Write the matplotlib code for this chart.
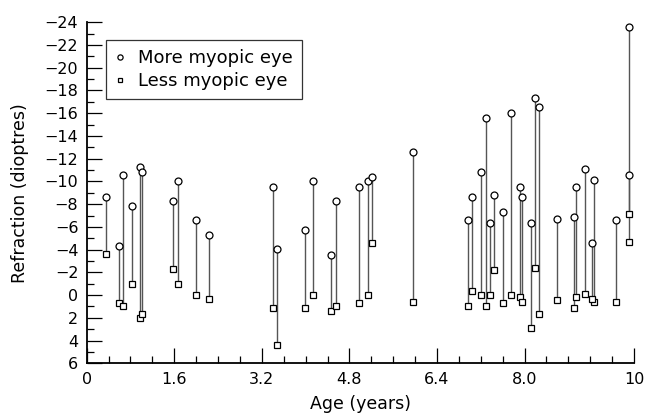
import matplotlib
matplotlib.use("Agg")
import matplotlib.pyplot as plt
from matplotlib.ticker import MultipleLocator, FixedLocator

# Age (years) of each child
age = [0.35, 0.585, 0.66, 0.83, 0.98, 1.01, 1.57, 1.66, 2.00, 2.24,
       3.40, 3.48, 3.99, 4.14, 4.47, 4.56, 4.97, 5.13, 5.22, 5.96,
       6.96, 7.04, 7.20, 7.29, 7.36, 7.45, 7.61, 7.76, 7.92, 7.95,
       8.12, 8.19, 8.27, 8.59, 8.90, 8.94, 9.10, 9.27, 9.23, 9.67,
       9.91, 9.90]
# Refraction of the more myopic eye (dioptres)
more_myopic = [-8.6, -4.3, -10.55, -7.8, -11.25, -10.85, -8.3, -10.05, -6.6, -5.3,
               -9.55, -4.1, -5.7, -10.05, -3.55, -8.3, -9.55, -10.05, -10.35, -12.55,
               -6.6, -8.6, -10.85, -15.6, -6.3, -8.8, -7.35, -16.05, -9.55, -8.6,
               -6.3, -17.35, -16.55, -6.7, -6.85, -9.55, -11.1, -10.1, -4.6, -6.6,
               -23.6, -10.55]
# Refraction of the less myopic eye (dioptres)
less_myopic = [-3.6, 0.7, 0.95, -1.0, 2.0, 1.7, -2.3, -1.0, 0.0, 0.3,
               1.15, 4.4, 1.15, -0.05, 1.4, 0.95, 0.7, -0.05, -4.6, 0.65,
               0.95, -0.35, -0.05, 0.95, -0.05, -2.2, 0.7, -0.05, 0.15, 0.65,
               2.9, -2.4, 1.7, 0.4, 1.1, 0.15, -0.1, 0.65, 0.35, 0.65,
               -7.1, -4.7]

x_tick_vals = [0, 1.6, 3.2, 4.8, 6.4, 8.0, 10]
x_tick_labels = ["0", "1.6", "3.2", "4.8", "6.4", "8.0", "10"]
y_tick_vals = list(range(-24, 7, 2))

plt.rcParams['font.family'] = ['DejaVu Sans']
fig = plt.figure(figsize=(6.48, 4.19), dpi=100)
ax = fig.add_axes([0.1338, 0.1329, 0.8447, 0.8139])

ax.vlines(age, more_myopic, less_myopic, colors='#555555', linewidth=1.0, zorder=1)
ax.plot(age, more_myopic, linestyle='none', marker='o', markersize=5,
        markerfacecolor='white', markeredgecolor='black', markeredgewidth=0.9,
        label='More myopic eye', zorder=3)
ax.plot(age, less_myopic, linestyle='none', marker='s', markersize=4.5,
        markerfacecolor='white', markeredgecolor='black', markeredgewidth=0.9,
        label='Less myopic eye', zorder=3)

ax.set_xlim(0, 10)
ax.set_ylim(6, -24)

ax.xaxis.set_major_locator(FixedLocator(x_tick_vals))
ax.set_xticklabels(x_tick_labels)
ax.xaxis.set_minor_locator(MultipleLocator(0.4))
ax.yaxis.set_major_locator(FixedLocator(y_tick_vals))
ax.yaxis.set_minor_locator(MultipleLocator(1))

for side in ['top', 'right']:
    ax.spines[side].set_visible(False)
for side in ['left', 'bottom']:
    ax.spines[side].set_linewidth(1.3)

ax.tick_params(which='major', direction='in', length=10.5, width=0.9, labelsize=11.5, pad=6)
ax.tick_params(which='minor', direction='in', length=5, width=0.9)

ax.set_xlabel('Age (years)', fontsize=12.5, labelpad=6)
ax.set_ylabel('Refraction (dioptres)', fontsize=12.5, labelpad=11)

leg = ax.legend(loc='upper left', bbox_to_anchor=(0.035, 0.948), borderaxespad=0,
                fontsize=13, frameon=True, fancybox=False, handlelength=0.6,
                handletextpad=0.7, markerscale=0.75, borderpad=0.5, labelspacing=0.3)
leg.get_frame().set_edgecolor('black')
leg.get_frame().set_linewidth(0.9)

fig.savefig('out.png', dpi=100)
